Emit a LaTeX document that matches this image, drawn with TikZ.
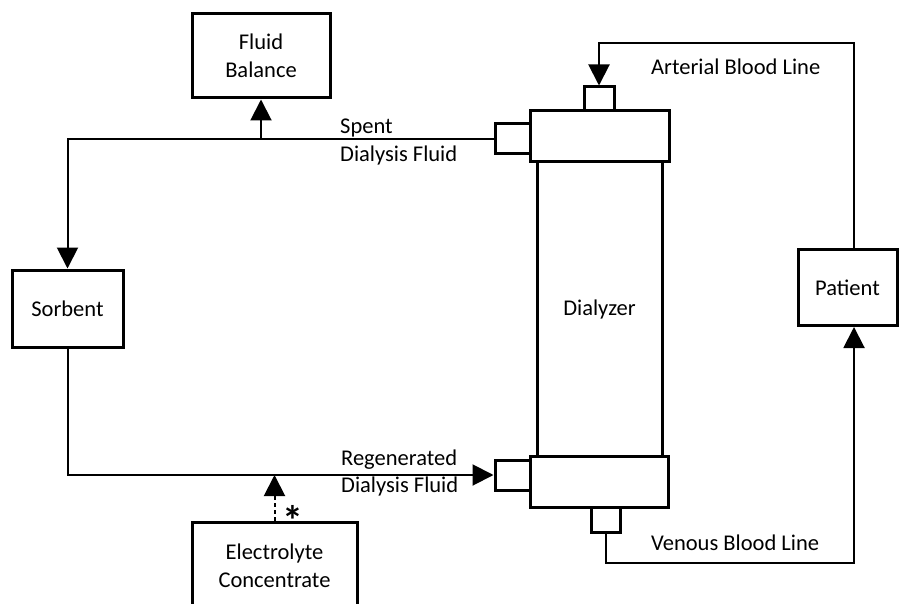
\documentclass[tikz,border=0pt]{standalone}
\usepackage{fontspec}
\setmainfont{Carlito}
\usetikzlibrary{arrows.meta}
\begin{document}
\begin{tikzpicture}[x=1pt,y=-1pt,
  font=\fontsize{22.5}{27.5}\selectfont,
  box/.style={draw, line width=3pt, fill=white, inner sep=0pt, align=center},
  conn/.style={line width=2pt},
  tip/.style={-{Triangle[length=21pt,width=21pt]}},
  lbl/.style={inner sep=0pt, align=left}]
\clip (0,0) rectangle (899,604);
\fill[white] (0,0) rectangle (899,604);
% boxes
\node[box, minimum width=138pt, minimum height=84pt] (fb) at (261,56) {Fluid\\Balance};
\node[box, minimum width=111pt, minimum height=77pt] (sorb) at (67.5,308.5) {Sorbent};
\node[box, minimum width=99pt, minimum height=76pt] (pat) at (847.5,287.5) {Patient};
\node[box, minimum width=165pt, minimum height=88pt] (el) at (274.5,566) {Electrolyte\\Concentrate};
% dialyzer
\node[box, minimum width=125pt, minimum height=294pt] (body) at (599.5,309) {Dialyzer};
\node[box, minimum width=139pt, minimum height=51pt] (th) at (599.5,136.5) {};
\node[box, minimum width=138pt, minimum height=51pt] (bh) at (599,481.5) {};
\node[box, minimum width=35pt, minimum height=30pt] (tlp) at (512.5,139) {};
\node[box, minimum width=35pt, minimum height=30pt] (blp) at (512.5,475) {};
\node[box, minimum width=30pt, minimum height=24pt] (tsp) at (599,99) {};
\node[box, minimum width=29pt, minimum height=25pt] (bsp) at (605.5,519.5) {};
% labels
\node[lbl, anchor=west] (spent) at (340,142) {Spent\\Dialysis Fluid};
\node[lbl, anchor=west] (regen) at (341,473) {Regenerated\\Dialysis Fluid};
\node[lbl, anchor=west] (art) at (651,67) {Arterial Blood Line};
\node[lbl, anchor=west] (ven) at (651,543) {Venous Blood Line};
\node[inner sep=0pt, font=\fontsize{42}{42}\selectfont\bfseries] (ast) at (293,520) {*};
% coordinates
\coordinate (a1) at (854,43);
\coordinate (v1) at (854,563);
% connectors
\draw[conn, tip] (tlp.west) -| (sorb.north);
\draw[conn, tip] (fb.south |- tlp.west) -- (fb.south);
\draw[conn, tip] (sorb.south) |- (blp.west);
\draw[conn, tip, dashed, dash pattern=on 4pt off 3pt] (el.north) -- (el.north |- blp.west);
\draw[conn, tip] (pat.north -| a1) -- (a1) -| (tsp.north);
\draw[conn, tip] (bsp.south) |- (v1) -- (pat.south -| v1);
\end{tikzpicture}
\end{document}
